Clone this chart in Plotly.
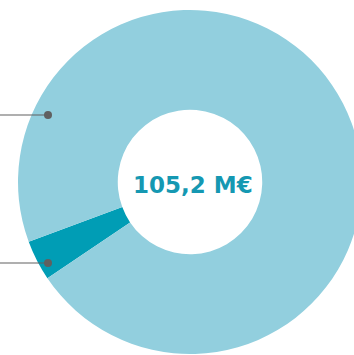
import plotly.graph_objects as go

labels = ["Part A", "Part B"]
values = [4.0, 101.2]
colors = ["#009DB5", "#92CFDE"]
center_text = "105,2 M€"

W, H = 372, 355
cx, cy, r = 190, 182, 172

fig = go.Figure(go.Pie(
    labels=labels, values=values, hole=0.42, sort=False,
    direction="clockwise", rotation=236,
    marker=dict(colors=colors, line=dict(width=0)),
    textinfo="none", hoverinfo="label+value",
    domain=dict(x=[(cx - r) / W, (cx + r) / W], y=[1 - (cy + r) / H, 1 - (cy - r) / H]),
    showlegend=False,
))

shapes = []
for py in [115, 263]:
    shapes.append(dict(type="line", xref="paper", yref="paper", x0=0, x1=48 / W,
                       y0=1 - py / H, y1=1 - py / H, line=dict(color="#606060", width=1.2)))
    shapes.append(dict(type="circle", xref="paper", yref="paper",
                       x0=(48 - 4) / W, x1=(48 + 4) / W,
                       y0=1 - (py + 4) / H, y1=1 - (py - 4) / H,
                       fillcolor="#606060", line=dict(width=0)))

fig.update_layout(
    width=W, height=H, margin=dict(l=0, r=0, t=0, b=0),
    paper_bgcolor="white", plot_bgcolor="white",
    shapes=shapes,
    annotations=[dict(text="<b>" + center_text + "</b>", x=193 / W, y=1 - 185 / H,
                      xref="paper", yref="paper", showarrow=False,
                      font=dict(family="DejaVu Sans", size=23, color="#1598B2"))],
)

fig.write_html("out.html", config={"displayModeBar": False},
               post_script="document.body.style.margin='0';document.body.style.overflow='hidden';document.documentElement.style.overflow='hidden';")
